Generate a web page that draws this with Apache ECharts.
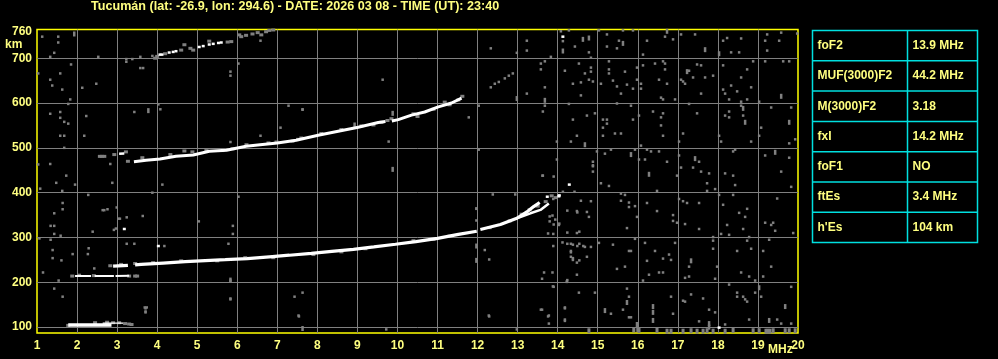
<!DOCTYPE html>
<html><head><meta charset="utf-8">
<script src="https://cdn.jsdelivr.net/npm/echarts@6/dist/echarts.min.js"></script>
<style>html,body{margin:0;padding:0;background:#000;}#c{width:998px;height:359px;}</style>
</head><body><div id="c"></div>
<script>
const titleText = 'Tucumán (lat: -26.9, lon: 294.6) - DATE: 2026 03 08 - TIME (UT): 23:40';
const xTicks = [1,20,1];            // min, max, interval (MHz)
const yTickValues = [100,200,300,400,500,600,700];
const yLabelValues = [100,200,300,400,500,600,700,760];
const tableLabels = ['foF2','MUF(3000)F2','M(3000)F2','fxI','foF1','ftEs',"h'Es"];
const tableValues = ['13.9 MHz','44.2 MHz','3.18','14.2 MHz','NO','3.4 MHz','104 km'];

// white traces [MHz, km]
const esTrace = [[1.78,105],[2.2,105],[2.45,105],[2.6,105],[2.86,105]];
const esThin = [[2.64,109],[2.9,109],[3.15,109]];
const es2Trace = [[1.95,214],[2.35,214],null,[2.44,214],[2.92,214],null,[2.96,214],[3.3,214.5]];
const fTrace = [[2.9,236],[3.27,238],null,[3.45,239],[3.6,240],[4.15,243],[4.7,246],[5.2,248.5],[5.7,250.5],[6.25,253],[6.8,257],[7.3,260.5],[7.85,264.5],[8.36,269],[8.9,273.5],[9.41,279],[9.95,285],[10.46,291],[11.0,298],[11.52,307],[11.98,314],null,[12.07,318],[12.57,329],[12.98,343],[13.23,357],[13.4,369],[13.55,378]];
const fxTrace = [[12.98,343],[13.32,354],[13.57,361.6],[13.78,376]];
const f2Start = [[3.05,487],[3.18,487.5]];
const f2Trace = [[3.42,469],[3.72,472.5],[4.07,475],[4.47,481.4],[4.9,484],[5.3,492.6],[5.73,494.5],[6.22,503.7],[6.57,507],[7.0,511],[7.47,517],[8.02,528],[8.52,537],[9.02,546],[9.52,556.5],[9.7,559],null,[9.86,560],[10.02,563],[10.35,573],[10.68,580],[11.02,591.5],[11.35,600],[11.6,611]];
const whiteDots = [[3.18,319],[4.03,281],[13.74,391],[14.04,394],[14.29,418],[14.03,392],[14.13,748],[18.03,99],[4.07,708],[4.12,708],[4.3,712.6],[4.4,714],[4.47,715.6],[5.05,725],[5.15,727],[5.3,730.5],[5.4,732],[5.53,734],[5.6,735]];
const f3Gray = [[3.95,700],[4.0,704],[4.2,710],[4.6,718],[4.68,730],[4.83,722],[4.9,718],[5.3,738],[5.76,736],[5.85,737],[6.05,752],[6.1,748],[6.22,751],[6.38,754],[6.51,757],[6.6,752],[6.72,759],[6.8,762],[6.9,763]];
const traceGray = [[2.57,481],[2.62,481],[2.68,481],[2.93,485],[3.22,491],[3.27,470],[3.63,478],[4.33,485],[4.68,493],[4.88,491],[5.23,494],[5.63,494],[5.88,498],[6.23,507],[6.78,511],[6.98,513],[7.38,515],[7.52,519],[7.6,522],[8.1,532],[8.6,541],[9.1,549],[9.4,551],[9.6,557],[9.75,561],[9.85,565],[10.4,576],[10.5,570],[10.9,586],[11.18,602],[11.3,596],[11.52,607],[11.62,615],
[2.83,237],[3.1,240],[3.45,242],[3.9,244],[4.6,248],[5.5,248],[6.2,255],[6.9,255],[7.9,262],[8.6,268],[9.2,275],[10.4,293],[10.9,296],[11.3,303],[12.3,322],[12.8,337],[13.1,352],[13.3,362],[13.5,370],[13.7,380],[13.85,393],[13.95,389],
[1.78,104],[2.45,110],[2.75,111],[2.9,110],[3.05,110],[3.2,108],[3.3,107],[3.36,106],
[1.88,214],[2.05,216],[2.42,215],[3.3,214],[3.45,214],[3.5,214]];
const noise = [
[1.13,748],[1.53,748],[1.53,735],[1.43,712],[1.33,703],[2.53,703],[1.85,686],[1.03,666],[1.58,666],[1.33,652],[1.38,639],[1.63,630],[2.13,634],[2.48,643],[1.83,608],[1.78,598],[1.33,576],[1.58,580],[1.58,567],[1.68,558],[1.78,554],[2.23,571],[3.43,580],[4.08,586],[4.03,597],[1.58,527],[1.68,527],[2.18,527],[1.68,500],[1.03,463],[1.33,464],[1.73,438],[1.48,422],[1.63,404],[1.08,409],[1.95,418],[2.28,395],[2.83,464],[2.88,422],[3.88,400],[4.13,418],[3.58,678],[3.65,678],[3.23,698],[3.23,692],[3.38,698],[3.58,703],[3.88,705],[5.83,670],[5.83,661],[6.03,688],[6.58,739],[7.28,594],[7.08,545],[6.58,527],[5.83,513],[6.03,391],[7.63,585],
[9.63,652],[7.63,586],[9.78,514],[11.78,568],[12.03,594],[12.03,496],[12.33,722],[12.98,712],[13.23,739],[13.23,717],[13.23,621],[13.68,693],[13.58,688],[13.58,675],[13.83,703],[13.68,635],[13.68,594],[13.63,581],[13.98,514],[13.98,474],[13.63,438],
[12.33,635],[12.43,643],[12.53,647],[12.68,655],[12.78,661],[12.88,666],
[14.08,760],[14.13,738],[14.28,762],[14.43,726],[14.83,701],[14.78,713],[15.03,762],[15.23,753],[15.23,726],[15.53,739],[15.48,722],[15.63,762],[15.88,762],[16.23,739],[16.13,708],[16.68,748],[16.88,742],[17.08,753],[17.43,753],[18.13,739],[18.23,745],[18.33,713],[18.53,713],[18.58,744],[19.23,753],[19.18,739],[19.53,739],[19.23,717],[19.58,757],[19.98,755],
[14.18,672],[14.53,688],[14.68,666],[14.83,679],[14.83,670],[14.88,648],[14.78,652],[14.58,646],[14.38,643],[14.58,617],[15.08,643],[15.28,693],[15.28,675],[15.28,666],[15.38,650],[15.48,637],[15.68,670],[15.73,641],[15.88,632],[15.58,621],[15.98,679],[15.98,652],[16.13,684],[16.08,643],[16.08,632],[16.43,688],[16.53,652],[16.68,688],[16.63,693],[16.68,675],[16.73,643],[16.58,612],[16.63,608],[16.93,608],[17.08,652],[17.13,648],[17.18,643],[17.28,672],[17.38,657],[17.48,686],[17.58,684],[17.68,657],[17.88,661],[17.58,621],[18.13,684],[18.13,630],[18.18,621],[18.33,639],[18.28,608],[18.48,626],[18.58,657],[18.58,603],[18.73,675],[18.73,608],[18.83,635],[18.88,693],[19.03,603],[19.18,693],[19.63,693],[19.78,693],
[14.28,598],[14.38,563],[14.73,572],[14.93,577],[15.13,563],[15.23,563],[15.13,545],[15.23,554],[15.13,527],[15.43,532],[15.58,532],[14.48,527],[14.33,514],[15.48,599],[15.83,594],[15.88,563],[16.03,572],[16.38,581],[16.58,568],[16.63,577],[16.58,550],[16.63,527],[17.13,532],[17.03,514],[17.28,598],[17.48,577],[18.03,527],[18.08,514],[18.18,572],[18.28,581],[18.28,568],[18.58,594],[18.63,572],[18.83,514],[19.03,527],[19.08,545],[19.33,590],[19.83,590],[19.93,519],[19.78,510],
[14.98,492],[14.88,469],[14.88,461],[15.18,487],[15.33,496],[15.93,496],[16.08,505],[16.03,474],[16.18,474],[16.23,496],[16.33,492],[16.53,492],[16.73,469],[17.03,483],[17.08,456],[17.53,469],[17.38,456],[17.58,447],[17.78,443],[18.18,443],[18.38,438],[18.38,492],[18.43,496],[19.18,483],[19.78,478],[19.58,447],[16.98,438],
[14.13,402],[15.08,421],[15.28,415],[15.58,398],[15.58,382],[15.68,395],[15.78,378],[15.78,368],[15.93,370],[16.23,377],[16.48,404],[16.48,359],[14.83,381],[14.48,359],[14.73,357],[14.78,346],[14.03,328],[14.48,310],[15.73,321],[15.98,346],[17.03,386],[17.13,381],[17.23,377],[17.53,377],[17.73,421],[17.73,404],[17.93,408],[18.03,395],[18.13,373],[18.43,417],[18.38,395],[16.88,350],[16.98,333],[17.18,330],[17.53,319],[16.88,337],[18.08,308],[18.23,328],[18.28,306],[18.53,355],[18.68,346],[18.73,364],[18.63,319],[18.78,301],[19.18,333],[19.33,328],[19.38,333],[19.43,315],[19.48,387],[19.88,310],[19.83,413],[17.88,301],[17.88,293],[17.88,275],[17.98,235],
[14.33,286],[14.38,284],[14.33,270],[14.33,257],[14.38,250],[14.68,279],[14.83,279],[14.73,257],[14.48,244],[14.48,217],[15.03,288],[15.38,284],[15.48,230],[15.68,235],[15.78,270],[15.83,270],[15.93,297],[16.18,288],[16.23,248],[16.28,217],[16.43,270],[16.53,222],[16.63,222],[16.63,253],[16.78,262],[16.83,250],[16.93,288],[16.13,204],[17.18,210],[17.28,213],[17.28,235],[17.93,208],[18.58,222],[18.78,213],[18.93,204],[19.13,213],[18.48,270],[18.73,293],[18.83,275],[19.13,270],[19.33,235],[19.28,295],[14.23,202],
[14.53,177],[14.93,177],[14.18,144],[14.18,117],[15.33,130],[15.63,139],[15.73,186],[15.78,168],[15.78,122],[15.83,122],[16.88,130],[16.83,168],[17.13,159],[17.18,157],[17.33,173],[17.63,164],[17.78,139],[17.53,113],[17.93,133],[18.28,195],[18.48,177],[18.48,168],[18.63,168],[18.68,162],[18.73,157],[18.93,177],[19.08,168],[19.83,190],[18.78,117],[19.48,117],[19.58,108],[19.83,108],[18.18,106],
[1.54,204],[1.43,186],[1.64,168],[3.69,144],[3.74,144],[3.71,135],[5.83,204],[5.83,164],[5.83,162],[7.43,168],[7.63,177],[7.53,126],[9.72,95],[12.28,126],[13.88,191],[14.23,201],[13.78,126],[13.58,139],[13.78,108],[12.98,95],
[1.64,377],[1.64,363],[1.43,354],[2.64,361],[2.68,361],[2.76,363],[2.99,367],[3.03,342],[3.07,342],[3.24,345],[2.97,320],[2.92,317],[2.39,313],[1.43,326],[1.34,326],[1.43,308],[1.59,304],[1.06,298],[1.34,295],[2.29,276],[2.27,263],[1.89,263],[1.39,272],[1.39,254],[1.61,249],[1.15,222],[2.43,231],[3.24,286],[3.43,286],[3.64,348],[4.18,281],[5.04,336],[5.89,326],[5.89,308],[5.78,286],[3.71,142],[3.71,133],[7.54,124],[11.97,364],[12.18,272],[12.29,251],[12.29,124],[13.61,139],[13.76,124],[14.18,142],[14.18,114],[13.66,222],[13.87,222],[13.61,208],[13.9,190],[13.87,349],[13.94,340],[14.04,331],[13.89,308],[14.24,286],[14.24,205],[13.89,386],[14.54,313],[14.54,286],[14.33,267],[14.38,254],[14.54,249],[13.89,281],
[13.62,438],[13.9,436],[14.88,459],[14.88,447],[12.38,396],[12.94,396],[14.42,402],[14.58,382],[14.24,360],[14.49,356],[13.8,347],[13.8,336],[11.97,365],[11.97,338],[13.76,309],[13.9,329],[14.24,311],[14.12,289],[14.49,281],[14.64,281]];
const noiseTall = [[1.93,754],[3.78,583],[9.88,577],[9.88,452],[12.98,610],[13.68,606],[14.13,716],[14.63,742],[14.78,745],[15.63,733],[16.73,760],[17.68,719],[18.03,710],[19.58,615],[17.23,670],[14.68,507],[18.63,588],[18.68,557],[19.78,557],[15.83,485],[16.28,441],[17.43,476],[19.43,490],[17.33,248],[15.18,137],[15.73,155],[16.38,146],[16.38,133],[16.38,115],[15.98,106],[19.03,188],[19.68,146],[19.28,115],[5.83,205],[7.63,97],[8.93,551],[11.97,281],[11.97,249],[17.78,100],[17.78,108]];
const bottomNoise = [[14.78,92],[16.03,93],[16.48,93],[16.73,91],[16.83,91],[17.13,91],[17.33,92],[17.48,91],[17.63,91],[17.73,92],[17.88,91],[18.18,91],[18.38,93],[18.88,92],[19.03,92],[19.2,91],[19.25,91],[19.3,91],[19.38,92],[19.68,92],[19.78,92],[19.93,92],[16.0,95],[15.9,94]];

const FONT = 'Liberation Sans, Arial, sans-serif';
const YEL = '#ffff80';
const chart = echarts.init(document.getElementById('c'), null, {renderer: 'canvas'});

function lineSeries(data, width) {
  return {type: 'line', data: data, showSymbol: false, symbol: 'none', connectNulls: false,
    lineStyle: {color: '#ffffff', width: width, cap: 'butt'}, silent: true, z: 5, animation: false};
}
function dotSeries(data, color, size, z) {
  return {type: 'scatter', data: data, symbol: 'rect', symbolSize: size,
    itemStyle: {color: color, opacity: 1}, silent: true, z: z, animation: false};
}

// table graphic
const tX0 = 812.5, tX1 = 907.5, tX2 = 977.5, tY0 = 30.5, rowH = 30.3;
const tableEls = [];
tableEls.push({type: 'rect', shape: {x: tX0, y: tY0, width: tX2 - tX0, height: rowH * tableLabels.length},
  style: {fill: 'none', stroke: '#00e0e0', lineWidth: 1.5}});
tableEls.push({type: 'line', shape: {x1: tX1, y1: tY0, x2: tX1, y2: tY0 + rowH * tableLabels.length},
  style: {stroke: '#00e0e0', lineWidth: 1.5}});
tableLabels.forEach((lab, i) => {
  if (i > 0) tableEls.push({type: 'line', shape: {x1: tX0, y1: tY0 + rowH * i, x2: tX2, y2: tY0 + rowH * i},
    style: {stroke: '#00e0e0', lineWidth: 1.5}});
  const cy = tY0 + rowH * i + rowH / 2;
  tableEls.push({type: 'text', x: tX0 + 5, y: cy, style: {text: lab, fill: YEL, font: 'bold 12px ' + FONT, verticalAlign: 'middle'}});
  tableEls.push({type: 'text', x: tX1 + 5, y: cy, style: {text: tableValues[i], fill: YEL, font: 'bold 12px ' + FONT, verticalAlign: 'middle'}});
});

chart.setOption({
  backgroundColor: '#000000',
  animation: false,
  title: {text: titleText, left: 91, top: 0, padding: 0,
    textStyle: {color: YEL, fontSize: 12.6, fontWeight: 'bold', fontFamily: FONT}},
  grid: {left: 37, top: 29.5, width: 761, height: 303.5, show: true, borderColor: '#ffff00', borderWidth: 1.5,
    backgroundColor: 'transparent', containLabel: false},
  xAxis: {type: 'value', min: xTicks[0], max: xTicks[1], interval: xTicks[2],
    axisLine: {show: false}, axisTick: {show: false},
    axisLabel: {color: YEL, fontSize: 12, fontWeight: 'bold', fontFamily: FONT, margin: 7, showMinLabel: true, showMaxLabel: true},
    splitLine: {show: true, showMinLine: false, showMaxLine: false, lineStyle: {color: '#808080', width: 1}}},
  yAxis: {type: 'value', min: 87, max: 764,
    axisLine: {show: false},
    axisTick: {show: false, customValues: yTickValues},
    axisLabel: {customValues: yLabelValues, color: YEL, fontSize: 12, fontWeight: 'bold', fontFamily: FONT, margin: 5},
    splitLine: {show: true, lineStyle: {color: '#808080', width: 1}}},
  graphic: [
    {type: 'text', left: 5, top: 39, style: {text: 'km', fill: YEL, font: 'bold 12px ' + FONT}},
    {type: 'text', left: 768, top: 344, style: {text: 'MHz', fill: YEL, font: 'bold 12px ' + FONT}},
    {type: 'group', children: tableEls}
  ],
  series: [
    dotSeries(noise, '#808080', [2.5, 2.5], 2),
    dotSeries(noiseTall, '#808080', [2.5, 5], 2),
    dotSeries(bottomNoise, '#808080', [3, 5], 2),
    dotSeries(traceGray, '#808080', [4, 3], 3),
    dotSeries(f3Gray, '#808080', [4, 3], 3),
    lineSeries(esTrace, 3.5),
    lineSeries(esThin, 1.2),
    lineSeries(es2Trace, 2),
    lineSeries(fTrace, 3.2),
    lineSeries(fxTrace, 2.5),
    lineSeries(f2Start, 2.5),
    lineSeries(f2Trace, 3),
    dotSeries(whiteDots, '#ffffff', [3, 2.5], 6)
  ]
});
</script></body></html>
